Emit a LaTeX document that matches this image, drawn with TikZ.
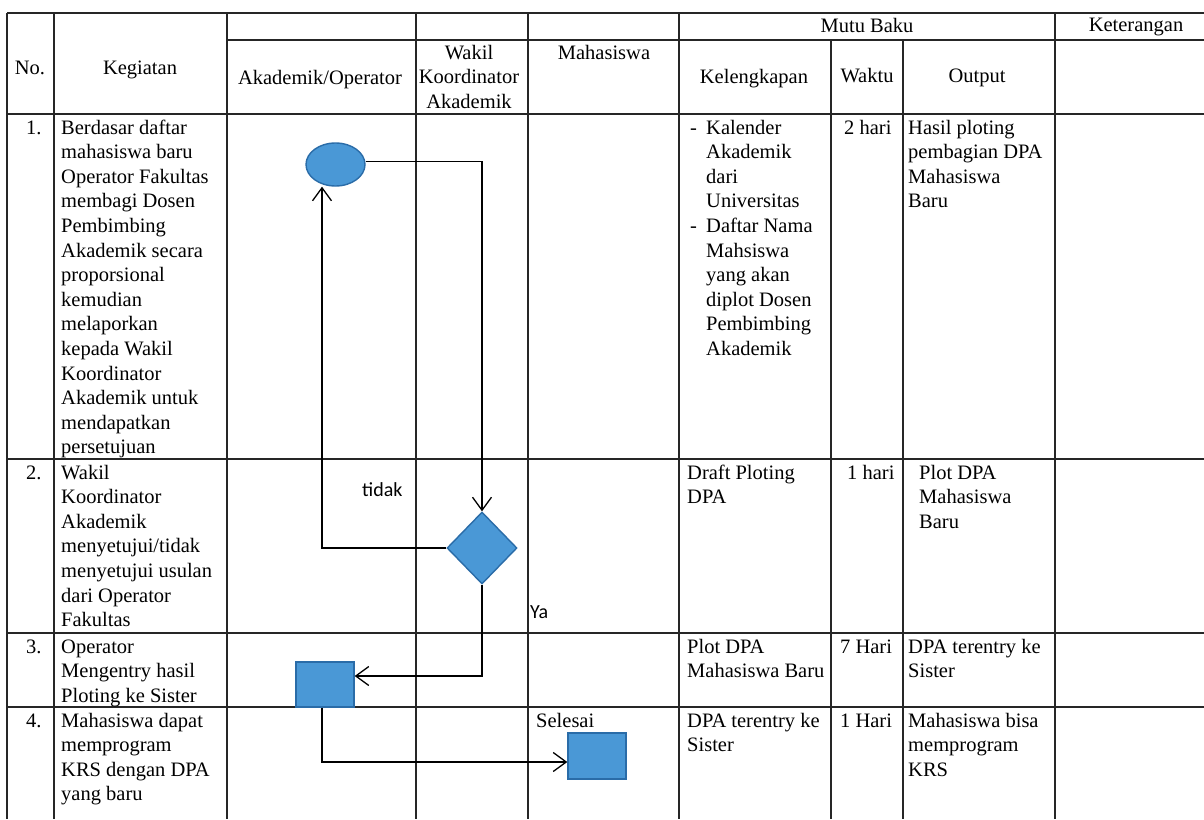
\documentclass[tikz,border=0pt]{standalone}
\usepackage{fontspec}
\setmainfont{Liberation Serif}
\newfontfamily\calibrifont{Carlito}
\usetikzlibrary{arrows.meta,shapes.geometric}
\definecolor{flowfill}{RGB}{74,152,214}
\definecolor{flowedge}{RGB}{42,108,168}
\newcommand\celltext[1]{\parbox[t]{200pt}{\raggedright #1}}
\newcommand\cellctr[2]{\parbox[t]{#1}{\centering #2}}
\newcommand\dashitem{\makebox[16pt][l]{-}}
\newcommand\indentitem{\hspace*{16pt}}
\begin{document}
\begin{tikzpicture}[x=1pt,y=-1pt,
  grid/.style={line width=1.1pt, draw=black!85},
  txt/.style={inner sep=0pt, anchor=base west, font=\fontsize{20.5}{24.6}\selectfont},
  hdr/.style={inner sep=0pt, anchor=base, font=\fontsize{20.5}{24.6}\selectfont},
  lbl/.style={inner sep=0pt, anchor=base west, font=\calibrifont\fontsize{20}{24}\selectfont},
  flow/.style={fill=flowfill, draw=flowedge, line width=1.4pt, inner sep=0pt},
  arr/.style={line width=1.3pt, -{Straight Barb[length=13pt,width=19pt]}},
]
\useasboundingbox (0,0) rectangle (1204,819);
\fill[white] (0,0) rectangle (1204,819);

% table grid
\draw[grid] (7,13) -- (1204,13);
\draw[grid] (227,40) -- (1204,40);
\draw[grid] (7,114) -- (1204,114);
\draw[grid] (7,459) -- (1204,459);
\draw[grid] (7,633) -- (1204,633);
\draw[grid] (7,707) -- (1204,707);
\foreach \xx in {7,54,227,416,528,679,1055} {\draw[grid] (\xx,13) -- (\xx,819);}
\foreach \xx in {831,903} {\draw[grid] (\xx,40) -- (\xx,819);}

% header
\node[hdr] (hno) at (30,74) {No.};
\node[hdr] (hkeg) at (140,74) {Kegiatan};
\node[hdr] (hakad) at (320,84) {Akademik/Operator};
\node[hdr] (hwakil) at (469,59) {\cellctr{110pt}{Wakil\\Koordinator\\Akademik}};
\node[hdr] (hmhs) at (604,59) {Mahasiswa};
\node[hdr] (hmutu) at (867,32) {Mutu Baku};
\node[hdr] (hket) at (1136,31) {Keterangan};
\node[hdr] (hkel) at (754,83) {Kelengkapan};
\node[hdr] (hwak) at (867,82) {Waktu};
\node[hdr] (hout) at (977,82) {Output};

% row 1
\node[txt] (n1) at (26,134) {1.};
\node[txt] (k1) at (61,134) {\celltext{Berdasar daftar\\mahasiswa baru\\Operator Fakultas\\membagi Dosen\\Pembimbing\\Akademik secara\\proporsional\\kemudian\\melaporkan\\kepada Wakil\\Koordinator\\Akademik untuk\\mendapatkan\\persetujuan}};
\node[txt] (l1) at (690,134) {\celltext{\dashitem Kalender\\\indentitem Akademik\\\indentitem dari\\\indentitem Universitas\\\dashitem Daftar Nama\\\indentitem Mahsiswa\\\indentitem yang akan\\\indentitem diplot Dosen\\\indentitem Pembimbing\\\indentitem Akademik}};
\node[txt] (w1) at (844,134) {2 hari};
\node[txt] (o1) at (908,134) {\celltext{Hasil ploting\\pembagian DPA\\Mahasiswa\\Baru}};

% row 2
\node[txt] (n2) at (26,479) {2.};
\node[txt] (k2) at (61,479) {\celltext{Wakil\\Koordinator\\Akademik\\menyetujui/tidak\\menyetujui usulan\\dari Operator\\Fakultas}};
\node[txt] (l2) at (687,479) {\celltext{Draft Ploting\\DPA}};
\node[txt] (w2) at (847,479) {1 hari};
\node[txt] (o2) at (919,479) {\celltext{Plot DPA\\Mahasiswa\\Baru}};

% row 3
\node[txt] (n3) at (26,653) {3.};
\node[txt] (k3) at (61,653) {\celltext{Operator\\Mengentry hasil\\Ploting ke Sister}};
\node[txt] (l3) at (687,653) {\celltext{Plot DPA\\Mahasiswa Baru}};
\node[txt] (w3) at (840,653) {7 Hari};
\node[txt] (o3) at (908,653) {\celltext{DPA terentry ke\\Sister}};

% row 4
\node[txt] (n4) at (26,727) {4.};
\node[txt] (k4) at (61,727) {\celltext{Mahasiswa dapat\\memprogram\\KRS dengan DPA\\yang baru}};
\node[txt] (l4) at (687,727) {\celltext{DPA terentry ke\\Sister}};
\node[txt] (w4) at (840,727) {1 Hari};
\node[txt] (o4) at (908,727) {\celltext{Mahasiswa bisa\\memprogram\\KRS}};
\node[txt] (selesai) at (536,727) {Selesai};

% flow shapes
\node[flow, ellipse, minimum width=59pt, minimum height=43pt] (start) at (335.5,164.5) {};
\node[flow, diamond, minimum width=70pt, minimum height=72pt] (dec) at (482,548) {};
\node[flow, rectangle, minimum width=58pt, minimum height=45pt] (entry) at (325,684.5) {};
\node[flow, rectangle, minimum width=58pt, minimum height=46pt] (done) at (597,756) {};

% labels
\node[lbl] (tidak) at (362,496) {tidak};
\node[lbl] (ya) at (530,618) {Ya};

% connectors
\draw[arr] ([yshift=3pt]start.east) -| (dec.north);
\draw[arr] (dec.west) -| ([xshift=-13.5pt]start.south);
\draw[arr] (dec.south) |- ([yshift=8.5pt]entry.east);
\draw[arr] ([xshift=-3pt]entry.south) |- ([yshift=-6pt]done.west);
\end{tikzpicture}
\end{document}
